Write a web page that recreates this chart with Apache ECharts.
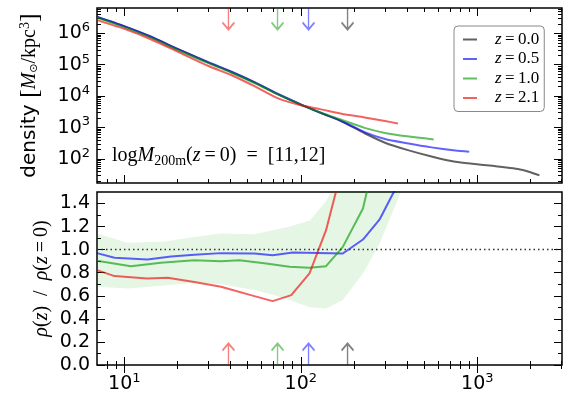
<!DOCTYPE html>
<html>
<head>
<meta charset="utf-8">
<script src="https://cdn.jsdelivr.net/npm/echarts@6/dist/echarts.min.js"></script>
<style>
  html, body { margin: 0; padding: 0; background: #fff; }
  #chart { width: 573px; height: 395px; }
</style>
</head>
<body>
<div id="chart"></div>
<script>
// density profiles, radius in kpc, density in Msun/kpc^3
const rZ00 = [7, 10, 14, 20, 30, 40, 55, 75, 100, 130, 170, 230, 300, 400, 550, 750, 1000, 1700, 2000, 2250];
const rhoZ00 = [3.3e6, 1.66e6, 7.9e5, 3.2e5, 1.17e5, 6.0e4, 2.7e4, 1.12e4, 5.4e3, 2.9e3, 1.58e3, 660, 330, 195, 120, 81, 68, 48, 38, 30];
const rZ05 = [7, 10, 14, 20, 30, 40, 55, 75, 100, 130, 170, 230, 300, 400, 550, 750, 900];
const rhoZ05 = [3.4e6, 1.7e6, 8.1e5, 3.2e5, 1.2e5, 6.2e4, 2.75e4, 1.15e4, 5.5e3, 2.95e3, 1.62e3, 720, 430, 316, 234, 186, 170];
const rZ10 = [7, 10, 14, 20, 30, 40, 55, 75, 100, 130, 170, 230, 300, 400, 566];
const rhoZ10 = [3.15e6, 1.55e6, 7.4e5, 2.95e5, 1.12e5, 5.75e4, 2.57e4, 1.1e4, 5.4e3, 3.0e3, 1.78e3, 980, 676, 525, 417];
const rZ21 = [7, 10, 14, 20, 30, 40, 55, 75, 100, 130, 170, 230, 300, 355];
const rhoZ21 = [2.63e6, 1.38e6, 6.6e5, 2.63e5, 9.1e4, 4.8e4, 2.04e4, 8.3e3, 5.1e3, 3.8e3, 2.75e3, 2.1e3, 1.62e3, 1.35e3];

// ratio rho(z)/rho(z=0)
const rRatioZ05 = [7, 8.8, 13.5, 18.4, 24.9, 35.3, 54.6, 69.3, 90.1, 173, 225, 279, 333, 388];
const ratioZ05 = [0.97, 0.93, 0.915, 0.94, 0.955, 0.97, 0.967, 0.952, 0.976, 0.967, 1.088, 1.26, 1.487, 1.65];
const rRatioZ10 = [7, 10.9, 16.1, 24.9, 35.3, 44.9, 63.7, 86.2, 112, 139, 173, 225, 245];
const ratioZ10 = [0.903, 0.857, 0.886, 0.909, 0.9, 0.909, 0.88, 0.851, 0.843, 0.857, 1.024, 1.357, 1.6];
const rRatioZ21 = [7, 8.8, 13.5, 17.6, 24.9, 35.3, 54.6, 69.3, 88.3, 112, 139, 159, 166];
const ratioZ21 = [0.823, 0.771, 0.75, 0.756, 0.72, 0.678, 0.597, 0.554, 0.606, 0.794, 1.169, 1.515, 1.6];

// scatter band of the ratio
const rBand = [7, 10.4, 16.9, 24.9, 35.3, 54.6, 72.4, 86.2, 112, 139, 173, 225, 279, 347, 414];
const bandLow = [0.678, 0.664, 0.69, 0.713, 0.7, 0.65, 0.6, 0.563, 0.5, 0.49, 0.563, 0.794, 1.05, 1.4, 1.7];
const bandHigh = [1.14, 1.06, 1.07, 1.11, 1.14, 1.134, 1.175, 1.2, 1.25, 1.42, 1.7, 2.0, 2.2, 2.4, 2.5];

// R200m marks for z = 0.0, 0.5, 1.0, 2.1
const rMark = [184, 110.6, 73.8, 38.9];

const names = ['z=0.0', 'z=0.5', 'z=1.0', 'z=2.1'];
const colors = ['rgba(0,0,0,0.62)', 'rgba(0,0,255,0.62)', 'rgba(0,150,0,0.62)', 'rgba(235,0,0,0.62)'];

const xRange = [7, 3020];
const yTopRange = [17.2, 6.4e6];
const yBottomRange = [0, 1.5];
const xMajor = [10, 100, 1000];
const yTopMajor = [1e2, 1e3, 1e4, 1e5, 1e6];
const yBottomMajor = [0, 0.2, 0.4, 0.6, 0.8, 1.0, 1.2, 1.4];
const yBottomMinor = [0.1, 0.3, 0.5, 0.7, 0.9, 1.1, 1.3];

const lg = Math.log10;
const SANS = 'DejaVu Sans';
const SERIF = 'Liberation Serif';

function minorLog(lo, hi) {
  const out = [];
  for (let e = Math.floor(lo); e <= Math.ceil(hi); e++) {
    for (let k = 2; k <= 9; k++) {
      const v = e + lg(k);
      if (v > lo && v < hi) out.push(v);
    }
  }
  return out;
}

const supRich = {
  sup: { fontFamily: SANS, fontSize: 13, color: '#000', padding: [0, 0, 11, 0] }
};

function tickAxes(dim, g, range, major, minor, label, name) {
  const pos = dim === 'x' ? ['bottom', 'top'] : ['left', 'right'];
  const out = [];
  pos.forEach((p, pi) => {
    [major, minor].forEach((vals, mi) => {
      const ax = {
        gridIndex: g,
        type: 'value',
        position: p,
        min: range[0],
        max: range[1],
        axisLine: { show: false },
        splitLine: { show: false },
        axisTick: {
          show: true,
          inside: true,
          length: mi === 0 ? 8 : 4,
          customValues: vals,
          lineStyle: { color: '#000', width: 1 }
        },
        axisLabel: { show: false }
      };
      if (pi === 0 && mi === 0 && label) {
        ax.axisLabel = Object.assign({
          show: true,
          customValues: vals,
          color: '#000',
          fontFamily: SANS,
          fontSize: 19,
          margin: 7
        }, label);
      }
      if (pi === 0 && mi === 0 && name) Object.assign(ax, name);
      out.push(ax);
    });
  });
  return out;
}

const xl = xRange.map(lg);
const ytl = yTopRange.map(lg);

const xAxes = [].concat(
  tickAxes('x', 0, xl, xMajor.map(lg), minorLog(xl[0], xl[1]), null),
  tickAxes('x', 1, xl, xMajor.map(lg), minorLog(xl[0], xl[1]), {
    formatter: v => '10{sup|' + Math.round(v) + '}',
    rich: supRich
  })
);

const yAxes = [].concat(
  tickAxes('y', 0, ytl, yTopMajor.map(lg), minorLog(ytl[0], ytl[1]), {
    formatter: v => '10{sup|' + Math.round(v) + '}',
    rich: supRich
  }, {
    name: '{s|density }{b|[}{i|M}{sub|\u2299}{n|/kpc}{sup|3}{b|]}',
    nameLocation: 'middle',
    nameRotate: 90,
    nameGap: 54,
    nameMoveOverlap: false,
    nameTextStyle: {
      color: '#000',
      rich: {
        s: { fontFamily: SANS, fontSize: 20, color: '#000' },
        b: { fontFamily: SERIF, fontSize: 26, color: '#000' },
        i: { fontFamily: SERIF, fontStyle: 'italic', fontSize: 20, color: '#000' },
        n: { fontFamily: SERIF, fontSize: 20, color: '#000' },
        sub: { fontFamily: SANS, fontSize: 11, color: '#000', padding: [8, 0, 0, 0] },
        sup: { fontFamily: SERIF, fontSize: 14, color: '#000', padding: [0, 0, 10, 0] }
      }
    }
  }),
  tickAxes('y', 1, yBottomRange, yBottomMajor, yBottomMinor, {
    formatter: v => v.toFixed(1)
  }, {
    name: '{i|\u03c1}{n|(}{i|z}{n|)  /  }{i|\u03c1}{n|(}{i|z}{n|\u2009=\u20090)}',
    nameLocation: 'middle',
    nameRotate: 90,
    nameGap: 45,
    nameMoveOverlap: false,
    nameTextStyle: {
      color: '#000',
      rich: {
        i: { fontFamily: SERIF, fontStyle: 'italic', fontSize: 20, color: '#000' },
        n: { fontFamily: SERIF, fontSize: 20, color: '#000' }
      }
    }
  })
);

const series = [];

// density profiles (top panel)
[[rZ00, rhoZ00], [rZ05, rhoZ05], [rZ10, rhoZ10], [rZ21, rhoZ21]].forEach((d, i) => {
  series.push({
    name: names[i],
    type: 'line',
    xAxisIndex: 0,
    yAxisIndex: 0,
    smooth: 0.25,
    symbol: 'none',
    lineStyle: { color: colors[i], width: 2 },
    itemStyle: { color: colors[i] },
    data: d[0].map((r, k) => [lg(r), lg(d[1][k])]),
    z: 3
  });
});

// ratio band (bottom panel)
series.push({
  type: 'custom',
  xAxisIndex: 4,
  yAxisIndex: 4,
  silent: true,
  z: 1,
  data: rBand.map((r, k) => [lg(r), bandLow[k], bandHigh[k]]),
  renderItem: function (params, api) {
    if (params.dataIndex !== 0) return null;
    const pts = [];
    rBand.forEach((r, k) => pts.push(api.coord([lg(r), bandHigh[k]])));
    for (let k = rBand.length - 1; k >= 0; k--) pts.push(api.coord([lg(rBand[k]), bandLow[k]]));
    const cs = params.coordSys;
    return {
      type: 'polygon',
      shape: { points: pts },
      style: { fill: 'rgba(0,170,0,0.1)', stroke: null },
      clipPath: { type: 'rect', shape: { x: cs.x, y: cs.y, width: cs.width, height: cs.height } }
    };
  }
});

// ratio lines
[[rRatioZ05, ratioZ05, 1], [rRatioZ10, ratioZ10, 2], [rRatioZ21, ratioZ21, 3]].forEach((d, i) => {
  const s = {
    name: names[d[2]],
    type: 'line',
    xAxisIndex: 4,
    yAxisIndex: 4,
    symbol: 'none',
    lineStyle: { color: colors[d[2]], width: 2 },
    itemStyle: { color: colors[d[2]] },
    data: d[0].map((r, k) => [lg(r), d[1][k]]),
    z: 3
  };
  if (i === 0) {
    s.markLine = {
      silent: true,
      symbol: 'none',
      label: { show: false },
      lineStyle: { color: '#333', type: [1.5, 3], width: 1.3 },
      data: [{ yAxis: 1 }]
    };
  }
  series.push(s);
});

// R200m arrows, top panel pointing down, bottom pointing up
series.push({
  type: 'scatter',
  xAxisIndex: 0,
  yAxisIndex: 0,
  clip: false,
  silent: true,
  symbol: 'path://M6,0L6,21M0,14L6,21L12,14',
  symbolSize: [12, 21],
  symbolOffset: [0, 11],
  data: rMark.map((r, i) => ({
    value: [lg(r), ytl[1]],
    itemStyle: { color: 'rgba(0,0,0,0)', borderColor: colors[i], borderWidth: 1.8 }
  })),
  z: 4
});
series.push({
  type: 'scatter',
  xAxisIndex: 4,
  yAxisIndex: 4,
  clip: false,
  silent: true,
  symbol: 'path://M6,21L6,0M0,7L6,0L12,7',
  symbolSize: [12, 21],
  symbolOffset: [0, -11],
  data: rMark.map((r, i) => ({
    value: [lg(r), yBottomRange[0]],
    itemStyle: { color: 'rgba(0,0,0,0)', borderColor: colors[i], borderWidth: 1.8 }
  })),
  z: 4
});

const option = {
  animation: false,
  backgroundColor: '#fff',
  grid: [
    { left: 97, right: 11, top: 8, height: 175, show: true, borderColor: '#000', borderWidth: 1.5, backgroundColor: 'transparent' },
    { left: 97, right: 11, top: 192, height: 173, show: true, borderColor: '#000', borderWidth: 1.5, backgroundColor: 'transparent' }
  ],
  xAxis: xAxes,
  yAxis: yAxes,
  legend: {
    data: names,
    orient: 'vertical',
    left: 454,
    top: 26,
    icon: 'rect',
    itemWidth: 14,
    itemHeight: 2,
    itemGap: 2.5,
    padding: [5, 5, 5, 9],
    backgroundColor: '#fff',
    borderColor: '#888',
    borderWidth: 1,
    borderRadius: 4,
    formatter: n => '{i|z}{n|\u2009=\u2009' + n.slice(2) + '}',
    textStyle: {
      padding: [0, 0, 0, 13],
      rich: {
        i: { fontFamily: SERIF, fontStyle: 'italic', fontSize: 17, lineHeight: 17, color: '#000' },
        n: { fontFamily: SERIF, fontSize: 17, lineHeight: 17, color: '#000' }
      }
    }
  },
  graphic: [{
    type: 'text',
    left: 112,
    top: 146,
    silent: true,
    style: {
      text: '{n|log}{i|M}{sub|200m}{n|(}{i|z}{n|\u2009=\u20090)\u2002=\u2002[11,12]}',
      rich: {
        n: { fontFamily: SERIF, fontSize: 20, fill: '#000' },
        i: { fontFamily: SERIF, fontStyle: 'italic', fontSize: 20, fill: '#000' },
        sub: { fontFamily: SERIF, fontSize: 14, fill: '#000', padding: [10, 0, 0, 0] }
      }
    }
  }],
  series: series
};

const chart = echarts.init(document.getElementById('chart'), null, { renderer: 'canvas' });
chart.setOption(option);
</script>
</body>
</html>
